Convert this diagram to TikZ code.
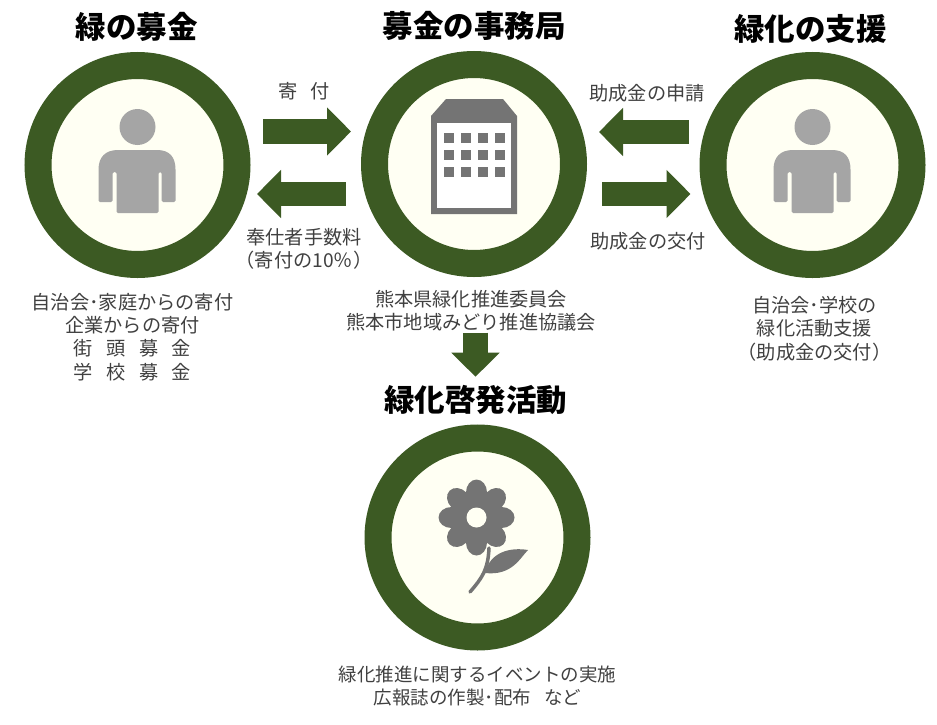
\documentclass[tikz,border=0pt]{standalone}
\usepackage{fontspec}
\setmainfont{Noto Sans CJK JP}
\usetikzlibrary{arrows.meta,positioning}
\definecolor{ringgreen}{HTML}{3C5A23}
\definecolor{cream}{HTML}{FFFFF3}
\definecolor{lightgrey}{HTML}{A5A5A5}
\definecolor{darkgrey}{HTML}{747474}
\definecolor{textgrey}{HTML}{404040}
\newcommand{\wordgap}{\hspace{.7em}}
\tikzset{
    ring/.style={circle,draw=ringgreen,fill=cream,line width=27pt,minimum size=199pt,inner sep=0pt},
    heading/.style={font=\fontsize{30.5}{33}\selectfont\bfseries,text=black,inner sep=0pt},
    note/.style={font=\fontsize{19.2}{23.3}\selectfont,text=textgrey,align=center,inner sep=0pt},
    blockarrow/.style={-{Triangle[width=47pt,length=24pt]},line width=24.5pt,ringgreen},
    person/.pic={
        \fill[lightgrey] (0,-38) circle (18);
        \fill[lightgrey,rounded corners=1.5pt] (-39,37) -- (-39,6) .. controls (-39,-8) and (-32,-15) .. (-18,-15)
            -- (18,-15) .. controls (32,-15) and (38,-8) .. (38,6) -- (38,37) -- (24,37) -- (24,7) -- (21,7)
            -- (21,48) -- (-21,48) -- (-21,7) -- (-25,7) -- (-25,37) -- cycle;
    }
}

\begin{document}
\begin{tikzpicture}[x=1pt,y=-1pt]
    \useasboundingbox (0,0) rectangle (937,725);

    \node[ring] (donors)   at (137.5,165) {};
    \node[ring] (office)   at (474,164)   {};
    \node[ring] (support)  at (812.5,165) {};
    \node[ring] (activity) at (477.5,537.5) {};

    \node[heading] (donors title)   [above=10.5pt of donors,xshift=-1pt]   {緑の募金};
    \node[heading] (office title)   [above=10pt of office]                 {募金の事務局};
    \node[heading] (support title)  [above=8.5pt of support,xshift=-2pt]   {緑化の支援};
    \node[heading] (activity title) [above=10pt of activity,xshift=-2pt]   {緑化啓発活動};

    \node[note] (donors note)   [below=15pt of donors,xshift=-5pt]   {自治会･家庭からの寄付\\企業からの寄付\\街\wordgap 頭\wordgap 募\wordgap 金\\学\wordgap 校\wordgap 募\wordgap 金};
    \node[note] (office note)   [below=13pt of office,xshift=-3pt]   {熊本県緑化推進委員会\\熊本市地域みどり推進協議会};
    \node[note] (support note)  [below=18pt of support,xshift=2pt]   {自治会･学校の\\緑化活動支援\\（助成金の交付）};
    \node[note,font=\fontsize{18.5}{23}\selectfont] (activity note) [below=15pt of activity] {緑化推進に関するイベントの実施\\広報誌の作製･配布\wordgap など};

    \draw[blockarrow,shorten <=12.5pt,shorten >=10pt] ([yshift=33.5pt]donors.east) -- ([yshift=33.5pt]donors.east -| office.west);
    \draw[blockarrow,shorten <=15.5pt,shorten >=6.5pt] ([yshift=-29pt]donors.east -| office.west) -- ([yshift=-29pt]donors.east);
    \draw[blockarrow,shorten <=11pt,shorten >=12pt] ([yshift=33pt]support.west) -- ([yshift=33pt]support.west -| office.east);
    \draw[blockarrow,shorten <=15pt,shorten >=9pt] ([yshift=-29pt]support.west -| office.east) -- ([yshift=-29pt]support.west);
    \draw[blockarrow,shorten <=1pt,shorten >=8pt] (activity title.north |- office note.south) -- (activity title.north);

    \node[note] (donation)    at (304,91)    {寄\wordgap 付};
    \node[note] (volunteer)   at (304,248.5) {奉仕者手数料\\（寄付の10％）};
    \node[note] (application) at (647,93)    {助成金の申請};
    \node[note] (grant)       at (648,241)   {助成金の交付};

    \pic at (137.5,165) {person};
    \pic at (812.5,165) {person};

    \fill[darkgrey] (431,116) -- (446,99) -- (503,99) -- (517,116) -- (517,214) -- (431,214) -- cycle;
    \fill[white] (437,123) rectangle (511,208);
    \foreach \px in {444,461,478,495}
        \foreach \py in {133,150,167}
            \fill[darkgrey] (\px,\py) rectangle +(9.5,9.5);

    \foreach \a in {0,45,...,315}
        \fill[darkgrey,rotate around={\a:(476.5,517.5)}] (501.5,517.5) ellipse (13 and 10.5);
    \fill[darkgrey] (476.5,517.5) circle (22);
    \fill[cream] (476.5,517.5) circle (10);
    \draw[darkgrey,line width=3.5pt,line cap=round] (489,548) .. controls (488,570) and (482,578) .. (470,592);
    \fill[darkgrey] (485,573) .. controls (490,552) and (510,547) .. (528,550) .. controls (520,558) and (512,576) .. (485,573) -- cycle;
\end{tikzpicture}
\end{document}
